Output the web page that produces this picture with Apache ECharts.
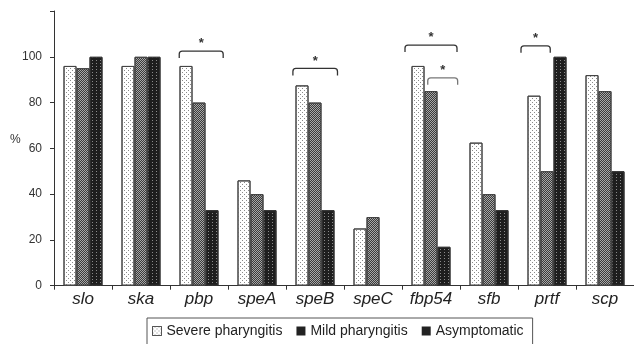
<!DOCTYPE html>
<html>
<head>
<meta charset="utf-8">
<script src="https://cdn.jsdelivr.net/npm/echarts@6/dist/echarts.min.js"></script>
<style>
html,body{margin:0;padding:0;background:#fff;}
#chart{width:634px;height:344px;}
</style>
</head>
<body>
<div id="chart"></div>
<script>
// ---- Data ----
var categories = ['slo', 'ska', 'pbp', 'speA', 'speB', 'speC', 'fbp54', 'sfb', 'prtf', 'scp'];
var severe = [96, 96, 96, 46, 87.5, 25, 96, 62.5, 83, 92];
var mild = [95, 100, 80, 40, 80, 30, 85, 40, 50, 85];
var asymptomatic = [100, 100, 33, 33, 33, 0, 17, 33, 100, 50];
var seriesNames = ['Severe pharyngitis', 'Mild pharyngitis', 'Asymptomatic'];
var yTicks = [0, 20, 40, 60, 80, 100];
// significance brackets: [category index, from (bar units from group centre), to, value at top]
var brackets = [
  [2, -1.52, 1.86, 102.5],
  [4, -1.70, 1.73, 94.9],
  [6, -2.00, 2.00, 105.1],
  [6, -0.25, 2.05, 90.8],
  [8, -2.00, 0.25, 104.8]
];
var bracketColors = ['#333', '#333', '#333', '#777', '#333'];

var BAR_W = 13;
var FONT = '"Liberation Sans", Arial, Helvetica, sans-serif';

var chart = echarts.init(document.getElementById('chart'), null, {renderer: 'canvas'});

var decalSevere = {symbol: 'rect', symbolSize: 1, color: '#8a8a8a', dashArrayX: [[1, 3], [0, 2, 1, 1]], dashArrayY: [1, 1]};
var decalMild = {symbol: 'rect', symbolSize: 1, color: '#3a3a3a', dashArrayX: [[1, 1], [0, 1, 1, 0]], dashArrayY: [1, 0]};
var decalAsym = {symbol: 'rect', symbolSize: 1, color: '#8a8a8a', dashArrayX: [1, 3], dashArrayY: [1, 2]};

function barSeries(name, data, color, decal, border) {
  return {
    name: name,
    type: 'bar',
    data: data,
    barWidth: BAR_W,
    barGap: '0%',
    itemStyle: {color: color, decal: decal, borderColor: border, borderWidth: 1},
    emphasis: {disabled: true},
    animation: false
  };
}

var option = {
  animation: false,
  grid: {left: 54, right: -3.5, top: 11, bottom: 58.3, containLabel: false},
  legend: {
    data: [
      {name: seriesNames[0], icon: 'rect', itemStyle: {color: '#fff', borderColor: '#555', borderWidth: 1, decal: decalSevere}},
      {name: seriesNames[1], icon: 'rect', itemStyle: {color: '#222', borderColor: '#222', borderWidth: 0, decal: 'none'}},
      {name: seriesNames[2], icon: 'rect', itemStyle: {color: '#222', borderColor: '#222', borderWidth: 0, decal: 'none'}}
    ],
    left: 147,
    top: 318,
    orient: 'horizontal',
    itemWidth: 9,
    itemHeight: 9,
    itemGap: 14,
    padding: [6, 9, 8, 5],
    borderColor: '#555',
    borderWidth: 1,
    selectedMode: false,
    textStyle: {fontFamily: FONT, fontSize: 14, color: '#222'}
  },
  xAxis: {
    type: 'category',
    data: categories,
    axisLine: {lineStyle: {color: '#333', width: 1}},
    axisTick: {show: true, length: 4, lineStyle: {color: '#333'}},
    axisLabel: {fontFamily: FONT, fontSize: 17, fontStyle: 'italic', color: '#222', margin: 5, interval: 0}
  },
  yAxis: {
    type: 'value',
    min: 0,
    max: 120,
    interval: 20,
    axisLine: {show: true, lineStyle: {color: '#333', width: 1}},
    axisTick: {show: true, length: 4, lineStyle: {color: '#333'}},
    splitLine: {show: false},
    axisLabel: {
      fontFamily: FONT, fontSize: 12, color: '#333', margin: 12,
      formatter: function (v) { return yTicks.indexOf(v) >= 0 ? String(v) : ''; }
    }
  },
  graphic: [
    {type: 'text', left: 10, top: 134, style: {text: '%', font: '12px ' + FONT, fill: '#333'}}
  ],
  series: [
    barSeries(seriesNames[0], severe, '#ffffff', decalSevere, '#444'),
    barSeries(seriesNames[1], mild, '#a8a8a8', decalMild, '#444'),
    barSeries(seriesNames[2], asymptomatic.map(function (v) { return v === 0 ? null : v; }), '#1e1e1e', decalAsym, '#333'),
    {
      type: 'custom',
      data: brackets,
      silent: true,
      animation: false,
      encode: {x: 0, y: 3},
      renderItem: function (params, api) {
        var p = api.coord([api.value(0), api.value(3)]);
        var x0 = p[0] + api.value(1) * BAR_W;
        var x1 = p[0] + api.value(2) * BAR_W;
        var y = p[1];
        var leg = 7, r = 3;
        var col = bracketColors[params.dataIndex];
        var d = 'M' + x0 + ',' + (y + leg) + ' L' + x0 + ',' + (y + r) +
          ' Q' + x0 + ',' + y + ' ' + (x0 + r) + ',' + y +
          ' L' + (x1 - r) + ',' + y +
          ' Q' + x1 + ',' + y + ' ' + x1 + ',' + (y + r) +
          ' L' + x1 + ',' + (y + leg);
        return {
          type: 'group',
          children: [
            {type: 'path', shape: {pathData: d}, style: {fill: null, stroke: col, lineWidth: 1.3}},
            {type: 'text', style: {text: '*', x: (x0 + x1) / 2, y: y - 1, font: 'bold 13px ' + FONT, fill: '#333', align: 'center', verticalAlign: 'bottom'}}
          ]
        };
      }
    }
  ]
};
chart.setOption(option);
</script>
</body>
</html>
